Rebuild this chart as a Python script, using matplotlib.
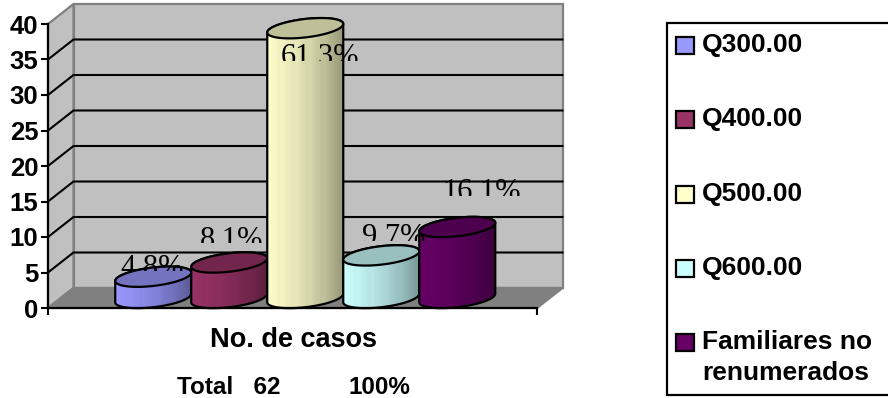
import numpy as np
import matplotlib
matplotlib.use('Agg')
import matplotlib.pyplot as plt
from matplotlib.patches import Polygon, Rectangle
from matplotlib.path import Path
from matplotlib.transforms import Bbox

# datos
categorias = ['Q300.00', 'Q400.00', 'Q500.00', 'Q600.00', 'Familiares no\nrenumerados']
casos = [3, 5, 38, 6, 10]
porcentajes = ['4.8%', '8.1%', '61.3%', '9.7%', '16.1%']
colores = ['#9999FF', '#993366', '#FFFFCC', '#CCFFFF', '#660066']
yticks = [0, 5, 10, 15, 20, 25, 30, 35, 40]

# posicion de las etiquetas respecto a la cima de cada cilindro (pixeles)
etiqueta_dx = [-1, 2, 15, 12, 24]
etiqueta_dy = [1, 15, -37, 10, 27]

# ==========================================
# GEOMETRIA
# ==========================================
W, H = 888, 398
PX_X = 76.0   # pixeles por categoria
PX_Y = 7.1    # pixeles por caso
DEPTH_X = 25.5 / PX_X
DEPTH_Y = 20 / PX_Y
XMIN, XMAX = -1.217, 5.217

plt.rcParams['font.family'] = ['Liberation Sans', 'DejaVu Sans']

fig = plt.figure(figsize=(W / 100, H / 100), dpi=100)
ax = fig.add_axes([48 / W, 1 - 308 / H, 489 / W, 284 / H])
ax.patch.set_visible(False)


def ellipse(cx, cy, t):
    # elipse inclinada: sube hacia la derecha
    a, b, s = 0.5, 1.3, 0.6
    return cx + a * np.cos(t), cy + b * np.sin(t) + s * np.cos(t)


# ==========================================
# PAREDES Y PISO
# ==========================================
gris_borde = '#808080'
pared = [(XMIN + DEPTH_X, DEPTH_Y), (XMAX + DEPTH_X, DEPTH_Y),
         (XMAX + DEPTH_X, 40 + DEPTH_Y), (XMIN + DEPTH_X, 40 + DEPTH_Y)]
lateral = [(XMIN, 0), (XMIN + DEPTH_X, DEPTH_Y), (XMIN + DEPTH_X, 40 + DEPTH_Y), (XMIN, 40)]
piso = [(XMIN, 0), (XMAX, 0), (XMAX + DEPTH_X, DEPTH_Y), (XMIN + DEPTH_X, DEPTH_Y)]
for pts, fc in [(pared, '#C0C0C0'), (lateral, '#C0C0C0'), (piso, '#808080')]:
    ax.add_patch(Polygon(pts, closed=True, fc=fc, ec=gris_borde, lw=1.6, zorder=1, clip_on=False))

for v in yticks[1:-1]:
    ax.plot([XMIN, XMIN + DEPTH_X, XMAX + DEPTH_X], [v, v + DEPTH_Y, v + DEPTH_Y],
            color='black', lw=1.5, zorder=2, clip_on=False, solid_joinstyle='miter')

# ==========================================
# CILINDROS
# ==========================================
t_sup = np.linspace(0, np.pi, 80)
t_inf = np.linspace(np.pi, 2 * np.pi, 80)
t_all = np.linspace(0, 2 * np.pi, 160)
base = DEPTH_Y / 2
centro = DEPTH_X / 2

sombra = np.array([1, .98, .97, .95, .96, .93, .92, .90, .91, .88, .86, .84,
                   .84, .81, .78, .76, .75, .72, .69, .66, .63, .60])

for i, (v, c) in enumerate(zip(casos, colores)):
    cx = i + centro
    x1, y1 = ellipse(cx, base, t_inf)
    x2, y2 = ellipse(cx, base + v, t_sup)
    cuerpo = Polygon(np.column_stack([np.r_[x1, x2], np.r_[y1, y2]]), closed=True,
                     fc='none', ec='black', lw=1.6, zorder=5 + i, clip_on=False)
    ax.add_patch(cuerpo)

    rgb = np.array(matplotlib.colors.to_rgb(c))
    franjas = np.outer(sombra, rgb)[np.newaxis, :, :]
    im = ax.imshow(franjas, extent=(cx - 0.5, cx + 0.5, -2, base + v + 2), aspect='auto',
                   interpolation='bilinear', zorder=4.5 + i)
    im.set_clip_box(fig.bbox)
    im.set_clip_path(Path(cuerpo.get_xy()), ax.transData)

    xt, yt = ellipse(cx, base + v, t_all)
    ax.add_patch(Polygon(np.column_stack([xt, yt]), closed=True, fc=rgb * 0.75, ec='black',
                         lw=1.6, zorder=5.2 + i, clip_on=False))

ax.set_xlim(XMIN, XMAX)
ax.set_ylim(0, 40)

# ==========================================
# EJES
# ==========================================
for lado in ['top', 'right']:
    ax.spines[lado].set_visible(False)
for lado in ['left', 'bottom']:
    ax.spines[lado].set_linewidth(1.6)
    ax.spines[lado].set_zorder(12)
ax.set_yticks(yticks)
ax.set_xticks([XMIN, XMAX])
ax.set_xticklabels([])
ax.tick_params(axis='both', length=5, width=1.5, color='black')
ax.tick_params(axis='y', pad=2)
for lab in ax.get_yticklabels():
    lab.set_fontsize(18.5)
    lab.set_fontweight('bold')

fig.text(293 / W, 1 - 340 / H, 'No. de casos', fontsize=19.5, fontweight='bold',
         ha='center', va='center')
fig.text(177 / W, 1 - 387 / H, 'Total   62', fontsize=17.5, fontweight='bold',
         ha='left', va='center')
fig.text(410 / W, 1 - 387 / H, '100%', fontsize=17.5, fontweight='bold',
         ha='right', va='center')

# ==========================================
# ETIQUETAS DE PORCENTAJE (recortadas abajo)
# ==========================================
for i, (v, txt) in enumerate(zip(casos, porcentajes)):
    xy = (i + centro, base + v)
    ty = ax.transData.transform(xy)[1] + etiqueta_dy[i]
    t = ax.annotate(txt, xy=xy, xytext=(etiqueta_dx[i] * 0.72, etiqueta_dy[i] * 0.72),
                    textcoords='offset points', ha='center', va='baseline',
                    fontsize=22, family=['Liberation Serif'], color='black',
                    zorder=20, annotation_clip=False)
    t.set_clip_on(True)
    t.set_clip_box(Bbox([[0, ty + 4.5], [W, H]]))

# ==========================================
# LEYENDA
# ==========================================
leg = fig.add_axes([0, 0, 1, 1])
leg.set_xlim(0, W)
leg.set_ylim(H, 0)
leg.axis('off')
leg.patch.set_visible(False)
leg.add_patch(Rectangle((667, 23), 240, 372, fc='white', ec='black', lw=1.6))
pos_y = [45, 119, 194, 268, 342]
for y, c, nombre in zip(pos_y, colores, categorias):
    leg.add_patch(Rectangle((676, y - 8.5), 18, 17, fc=c, ec='black', lw=1.6))
    lineas = nombre.split('\n')
    for k, linea in enumerate(lineas):
        leg.text(702, y + k * 31, linea, fontsize=19, fontweight='bold', ha='left', va='center')

fig.savefig('out.png', dpi=100)
